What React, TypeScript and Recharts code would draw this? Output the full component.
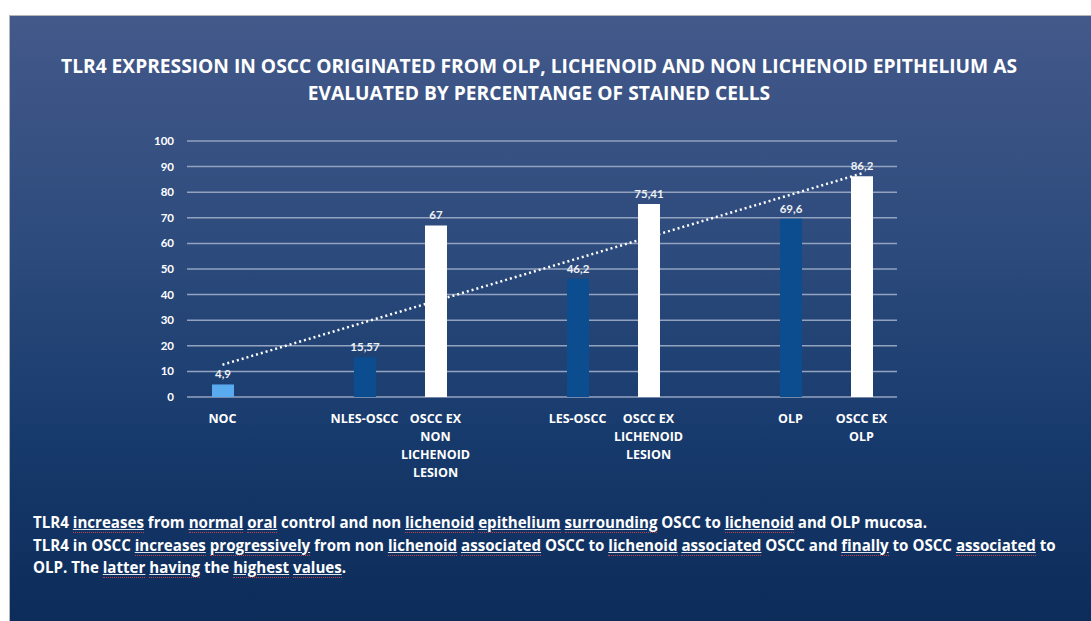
import React from 'react';
import { ComposedChart, Bar, Line, XAxis, YAxis, CartesianGrid, Cell, LabelList } from 'recharts';

const categories = ['NOC', 'gap1', 'NLES-OSCC', 'OSCC EX NON LICHENOID LESION', 'gap2', 'LES-OSCC', 'OSCC EX LICHENOID LESION', 'gap3', 'OLP', 'OSCC EX OLP'];
const tickLines: string[][] = [['NOC'], [], ['NLES-OSCC'], ['OSCC EX', 'NON', 'LICHENOID', 'LESION'], [], ['LES-OSCC'], ['OSCC EX', 'LICHENOID', 'LESION'], [], ['OLP'], ['OSCC EX', 'OLP']];
const values: (number | null)[] = [4.9, null, 15.57, 67, null, 46.2, 75.41, null, 69.6, 86.2];
const valueLabels: string[] = ['4,9', '', '15,57', '67', '', '46,2', '75,41', '', '69,6', '86,2'];
const barColors: string[] = ['#5aaaf0', '#000', '#0b4d8e', '#ffffff', '#000', '#0b4d8e', '#ffffff', '#000', '#0b4d8e', '#ffffff'];
const trend: (number | null)[] = [12.6, null, null, null, null, null, null, null, null, 87.3];
const yTicks = [0, 10, 20, 30, 40, 50, 60, 70, 80, 90, 100];

const data = categories.map((c, i) => ({ name: c, idx: i, value: values[i], label: valueLabels[i], trend: trend[i] }));

const FONT = 'Lato, "Open Sans", sans-serif';
const FONT2 = '"Open Sans", Lato, sans-serif';

const XTick = (props: any) => {
  const { x, y, payload } = props;
  const lines = tickLines[payload.index] || [];
  return (
    <g>
      {lines.map((l, i) => (
        <text key={i} x={x} y={y + 18 + i * 18} textAnchor="middle" fill="#ffffff" fontSize={12.5} fontWeight={700} fontFamily={FONT2}>
          {l}
        </text>
      ))}
    </g>
  );
};

const ul = { textDecoration: 'underline', textDecorationColor: '#dfe4ec', borderBottom: '1px dotted #c0404a', paddingBottom: 0 } as React.CSSProperties;

export default function App() {
  return (
    <div style={{ position: 'absolute', left: 0, top: 0, width: 1091, height: 621, background: '#ffffff', overflow: 'hidden', fontFamily: FONT }}>
      <div style={{ position: 'absolute', left: 9, top: 15, width: 1082, height: 606, background: 'linear-gradient(180deg, #43598a 0%, #2c4a7c 40%, #173a6c 70%, #0c2c5a 100%)', borderLeft: '1px solid #b5b5b5', borderTop: '1px solid #b5b5b5', boxSizing: 'border-box' }} />
      <div style={{ position: 'absolute', left: 0, top: 52, width: 1078, textAlign: 'center', color: '#ffffff', fontWeight: 700, fontSize: 19.2, lineHeight: '27px', fontFamily: FONT2, whiteSpace: 'nowrap' }}>
        TLR4 EXPRESSION IN OSCC ORIGINATED FROM OLP, LICHENOID AND NON LICHENOID EPITHELIUM AS<br />EVALUATED BY PERCENTANGE OF STAINED CELLS
      </div>
      <div style={{ position: 'absolute', left: 0, top: 0 }}>
        <ComposedChart width={1091} height={621} data={data} margin={{ top: 141, right: 194, bottom: 134, left: 127 }}>
          <CartesianGrid vertical={false} stroke="#93a3bf" strokeWidth={1.5} />
          <XAxis dataKey="name" axisLine={false} tickLine={false} interval={0} height={90} tick={<XTick />} />
          <YAxis type="number" domain={[0, 100]} ticks={yTicks} axisLine={false} tickLine={false} width={60} tickMargin={7} tick={{ fill: '#ffffff', fontSize: 11.5, fontWeight: 700, fontFamily: FONT }} />
          <Bar dataKey="value" barSize={22} isAnimationActive={false}>
            {data.map((d, i) => (
              <Cell key={i} fill={barColors[i]} />
            ))}
            <LabelList dataKey="label" position="top" offset={6} fill="#eef1f6" fontSize={11.5} fontWeight={700} fontFamily={FONT} />
          </Bar>
          <Line dataKey="trend" connectNulls stroke="#ffffff" strokeWidth={2.5} strokeDasharray="2 3" dot={false} activeDot={false} isAnimationActive={false} />
        </ComposedChart>
      </div>
      <div style={{ position: 'absolute', left: 33, top: 511, width: 1055, color: '#ffffff', fontWeight: 700, fontSize: 15.1, lineHeight: '22.5px', fontFamily: FONT2, whiteSpace: 'nowrap' }}>
        <div>TLR4 <span style={ul}>increases</span> from <span style={ul}>normal</span> <span style={ul}>oral</span> control and non <span style={ul}>lichenoid</span> <span style={ul}>epithelium</span> <span style={ul}>surrounding</span> OSCC to <span style={ul}>lichenoid</span> and OLP mucosa.</div>
        <div>TLR4 in OSCC <span style={ul}>increases</span> <span style={ul}>progressively</span> from non <span style={ul}>lichenoid</span> <span style={ul}>associated</span> OSCC to <span style={ul}>lichenoid</span> <span style={ul}>associated</span> OSCC and <span style={ul}>finally</span> to OSCC <span style={ul}>associated</span> to</div>
        <div>OLP. The <span style={ul}>latter</span> <span style={ul}>having</span> the <span style={ul}>highest</span> <span style={ul}>values</span>.</div>
      </div>
    </div>
  );
}
